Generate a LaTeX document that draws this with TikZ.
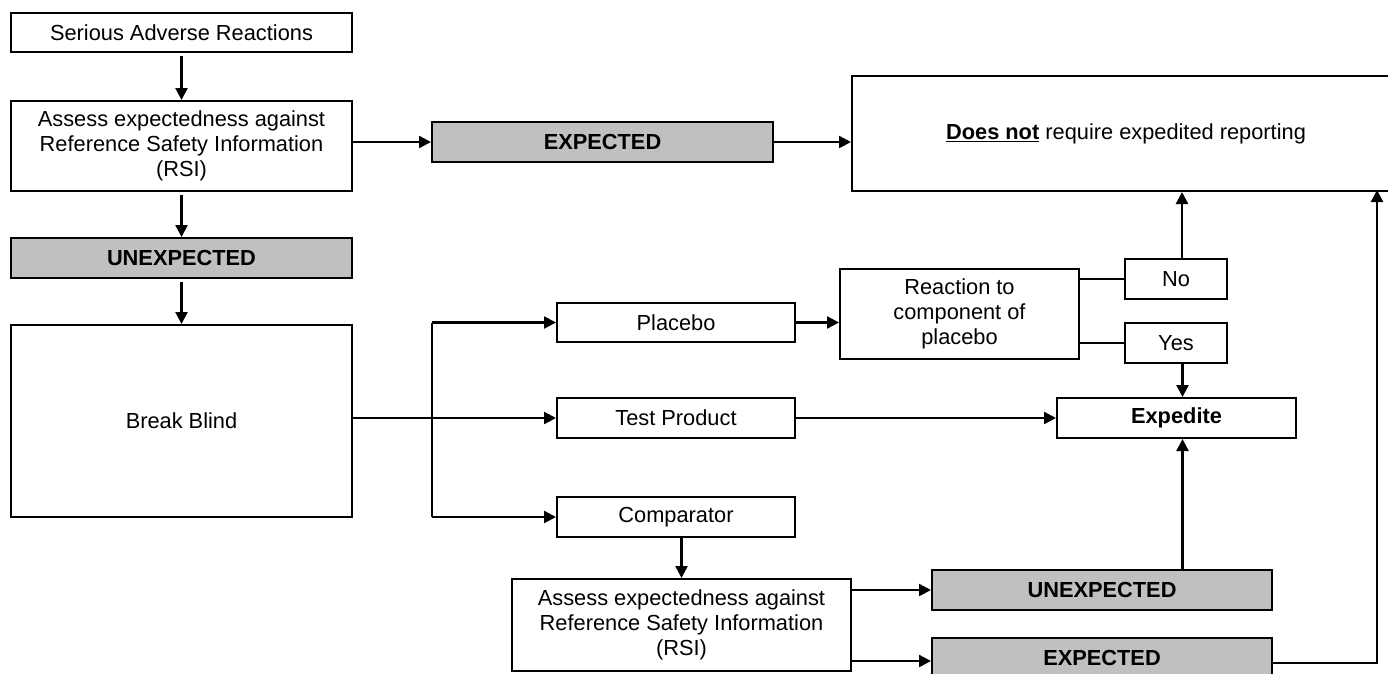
\documentclass[tikz,border=0pt]{standalone}
\usepackage{fontspec}
\setmainfont{Liberation Sans}
\usetikzlibrary{arrows.meta,positioning}
\begin{document}
\begin{tikzpicture}[x=1pt,y=-1pt,
  box/.style={draw, line width=2pt, inner sep=0pt, align=center,
    font=\fontsize{21.8}{25}\selectfont},
  gbox/.style={box, fill=graybox, font=\fontsize{21.8}{25}\selectfont\bfseries},
  arr/.style={line width=2.4pt, -{Triangle[length=12pt,width=12pt]}},
  ln/.style={line width=2.4pt},
  thin/.style={line width=1.6pt}]
\definecolor{graybox}{HTML}{C0C0C0}
\useasboundingbox (0,0) rectangle (1388,673);
\clip (0,0) rectangle (1388,673);
% left column
\node[box, minimum width=341pt, minimum height=39pt] (sar) at (181.5,32.5) {Serious Adverse Reactions};
\node[box, minimum width=341pt, minimum height=90pt] (as1) at (181.5,146) {Assess expectedness against\\Reference Safety Information\\(RSI)};
\node[gbox, minimum width=341pt, minimum height=40pt] (un1) at (181.5,258) {UNEXPECTED};
\node[box, minimum width=341pt, minimum height=192pt] (blind) at (181.5,421) {Break Blind};
% top
\node[gbox, minimum width=341pt, minimum height=40pt] (ex1) at (602.5,142) {EXPECTED};
\node[box, minimum width=548pt, minimum height=115pt] (big) at (1126,133.5) {\underline{\textbf{Does not}} require expedited reporting};
% middle column
\node[box, minimum width=238pt, minimum height=39pt] (plac) at (676,322.5) {Placebo};
\node[box, minimum width=238pt, minimum height=40pt] (test) at (676,418) {Test Product};
\node[box, minimum width=238pt, minimum height=40pt] (comp) at (676,517) {Comparator};
% right parts
\node[box, minimum width=239pt, minimum height=90pt] (react) at (959.5,314) {Reaction to\\component of\\placebo};
\node[box, minimum width=102pt, minimum height=40pt] (no) at (1176,279) {No};
\node[box, minimum width=102pt, minimum height=40pt] (yes) at (1176,343) {Yes};
\node[box, minimum width=239pt, minimum height=40pt, font=\fontsize{21.8}{25}\selectfont\bfseries] (exped) at (1176.5,418) {Expedite};
% bottom
\node[box, minimum width=339pt, minimum height=92pt] (as2) at (681.5,625) {Assess expectedness against\\Reference Safety Information\\(RSI)};
\node[gbox, minimum width=340pt, minimum height=40pt] (un2) at (1102,590) {UNEXPECTED};
\node[gbox, minimum width=340pt, minimum height=40pt] (ex2) at (1102,658) {EXPECTED};
% helper coordinates
\coordinate (bx) at (432,0);
\coordinate (ax) at ([xshift=6pt]exped.north);
\coordinate (nx) at ([xshift=6pt]no.north);
\coordinate (rx) at (1377,0);
% connectors left column
\draw[arr, shorten <=3pt] (sar.south) -- (as1.north);
\draw[arr, shorten <=3pt] (as1.south) -- (un1.north);
\draw[arr, shorten <=3pt] (un1.south) -- (blind.north);
\draw[arr] (as1.east |- ex1.west) -- (ex1.west);
\draw[arr] (ex1.east) -- (ex1.east -| big.west);
% break blind branches
\draw[ln] (blind.east |- test.west) -- (bx |- test.west);
\draw[arr] (bx |- test.west) -- (test.west);
\draw[ln] (bx |- plac.west) -- (bx |- comp.west);
\draw[arr] (bx |- plac.west) -- (plac.west);
\draw[arr] (bx |- comp.west) -- (comp.west);
% placebo path
\draw[arr] (plac.east) -- (plac.east -| react.west);
\draw[thin] (react.east |- no.west) -- (no.west);
\draw[thin] (react.east |- yes.west) -- (yes.west);
\draw[arr] (nx) -- (nx |- big.south);
\draw[arr] (ax |- yes.south) -- (ax);
\draw[arr] (test.east) -- (exped.west);
% comparator path
\draw[arr] (comp.south -| as2.north) -- (as2.north);
\draw[arr] (as2.east |- un2.west) -- (un2.west);
\draw[arr] ([yshift=-3pt]as2.east |- ex2.west) -- ([yshift=-3pt]ex2.west);
\draw[arr] (ax |- un2.north) -- (ax |- exped.south);
\draw[arr] ([yshift=-5pt]ex2.east) -| ([yshift=2pt]rx |- big.south);
\end{tikzpicture}
\end{document}
